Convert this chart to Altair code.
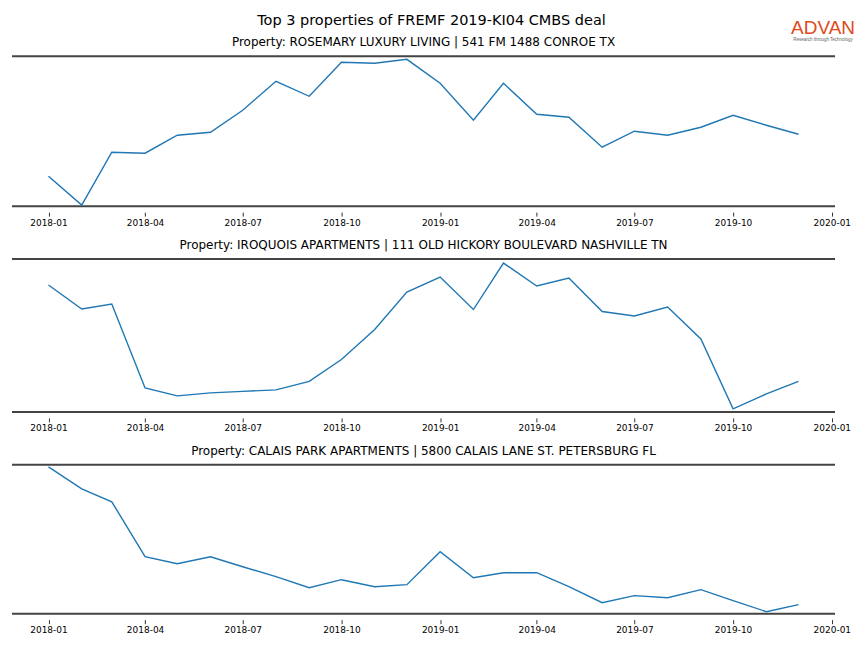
import altair as alt
import pandas as pd

main_title = "Top 3 properties of FREMF 2019-KI04 CMBS deal"
panel_titles = [
    "Property: ROSEMARY LUXURY LIVING | 541 FM 1488 CONROE TX",
    "Property: IROQUOIS APARTMENTS | 111 OLD HICKORY BOULEVARD NASHVILLE TN",
    "Property: CALAIS PARK APARTMENTS | 5800 CALAIS LANE ST. PETERSBURG FL",
]
months = [
    "2018-01", "2018-02", "2018-03", "2018-04", "2018-05", "2018-06",
    "2018-07", "2018-08", "2018-09", "2018-10", "2018-11", "2018-12",
    "2019-01", "2019-02", "2019-03", "2019-04", "2019-05", "2019-06",
    "2019-07", "2019-08", "2019-09", "2019-10", "2019-11", "2019-12",
]
tick_months = ["2018-01", "2018-04", "2018-07", "2018-10", "2019-01",
               "2019-04", "2019-07", "2019-10", "2020-01"]

rosemary = [30, 1, 54, 53, 71, 74, 96, 125, 110, 144, 143, 147,
            123, 86, 123, 92, 89, 59, 75, 71, 79, 91, 81, 72]
iroquois = [127, 103, 108, 24, 16, 19, 20.5, 22, 30.5, 52.5, 82.5, 120,
            135, 102.5, 149, 126, 134, 100.5, 96, 105, 73, 3, 18, 30.5]
calais = [147, 125, 112, 57, 50, 57, 47, 37, 26, 34, 27, 29,
          62, 36, 41, 41, 27, 11, 18, 16, 24, 13, 2, 9]
series = [rosemary, iroquois, calais]
y_domains = [[0, 150], [0, 153], [0, 149]]

logo_text = "ADVAN"
logo_sub = "Research through Technology"

W = 824
HEIGHTS = [150, 153, 149]
BORDER = "#444444"
FONT = "DejaVu Sans"


def dt(s, d=1):
    y, m = s.split("-")
    return alt.DateTime(year=int(y), month=int(m), date=d, utc=True)


x_scale = alt.Scale(
    type="utc",
    domain=[alt.DateTime(year=2017, month=11, date=28, utc=True),
            alt.DateTime(year=2020, month=1, date=4, utc=True)],
)

one = pd.DataFrame({"k": [0]})


def panel(vals, title, ydom, h):
    df = pd.DataFrame({"month": [m + "-01" for m in months], "value": vals})
    line = alt.Chart(df).mark_line(color="#1f77b4", strokeWidth=1.4).encode(
        x=alt.X("month:T", scale=x_scale,
                axis=alt.Axis(values=[dt(m) for m in tick_months], format="%Y-%m",
                              title=None, domain=False, grid=False, offset=6,
                              tickSize=4, tickColor="#333333", tickWidth=1,
                              labelFontSize=9, labelFont=FONT, labelColor="#000000",
                              labelPadding=2, labelFlush=False, labelOverlap=False)),
        y=alt.Y("value:Q", scale=alt.Scale(domain=ydom, nice=False, zero=False), axis=None),
    )
    top = alt.Chart(one).mark_rule(color=BORDER, strokeWidth=2).encode(
        x=alt.value(0), x2=alt.value(W), y=alt.value(0))
    bottom = alt.Chart(one).mark_rule(color=BORDER, strokeWidth=2).encode(
        x=alt.value(0), x2=alt.value(W), y=alt.value(h))
    return alt.layer(top, bottom, line).properties(
        width=W, height=h,
        title=alt.TitleParams(title, fontSize=12, font=FONT, fontWeight="normal",
                              color="#000000", anchor="middle", offset=6),
    )


panels = [panel(series[i], panel_titles[i], y_domains[i], HEIGHTS[i]) for i in range(3)]

header = alt.layer(
    alt.Chart(pd.DataFrame({"t": [main_title]})).mark_text(
        font=FONT, fontSize=14.5, color="#000000", align="center", baseline="middle"
    ).encode(text="t:N", x=alt.value(420), y=alt.value(7.5)),
    alt.Chart(pd.DataFrame({"t": [logo_text]})).mark_text(
        font="Liberation Sans", fontSize=19, color="#E0491B", align="center", baseline="middle"
    ).encode(text="t:N", x=alt.value(812), y=alt.value(15)),
    alt.Chart(pd.DataFrame({"t": [logo_sub]})).mark_text(
        font="Liberation Sans", fontSize=4.5, color="#666666", align="center", baseline="middle"
    ).encode(text="t:N", x=alt.value(812), y=alt.value(26.5)),
).properties(width=W, height=28)

chart = alt.vconcat(
    header,
    alt.vconcat(*panels, spacing=12),
    spacing=-5,
).properties(
    padding={"left": 3, "top": 4, "right": 0, "bottom": 0},
    background="white",
).configure_view(strokeWidth=0, stroke="transparent")

chart.save("out.html", embed_options={"renderer": "svg", "actions": False})
